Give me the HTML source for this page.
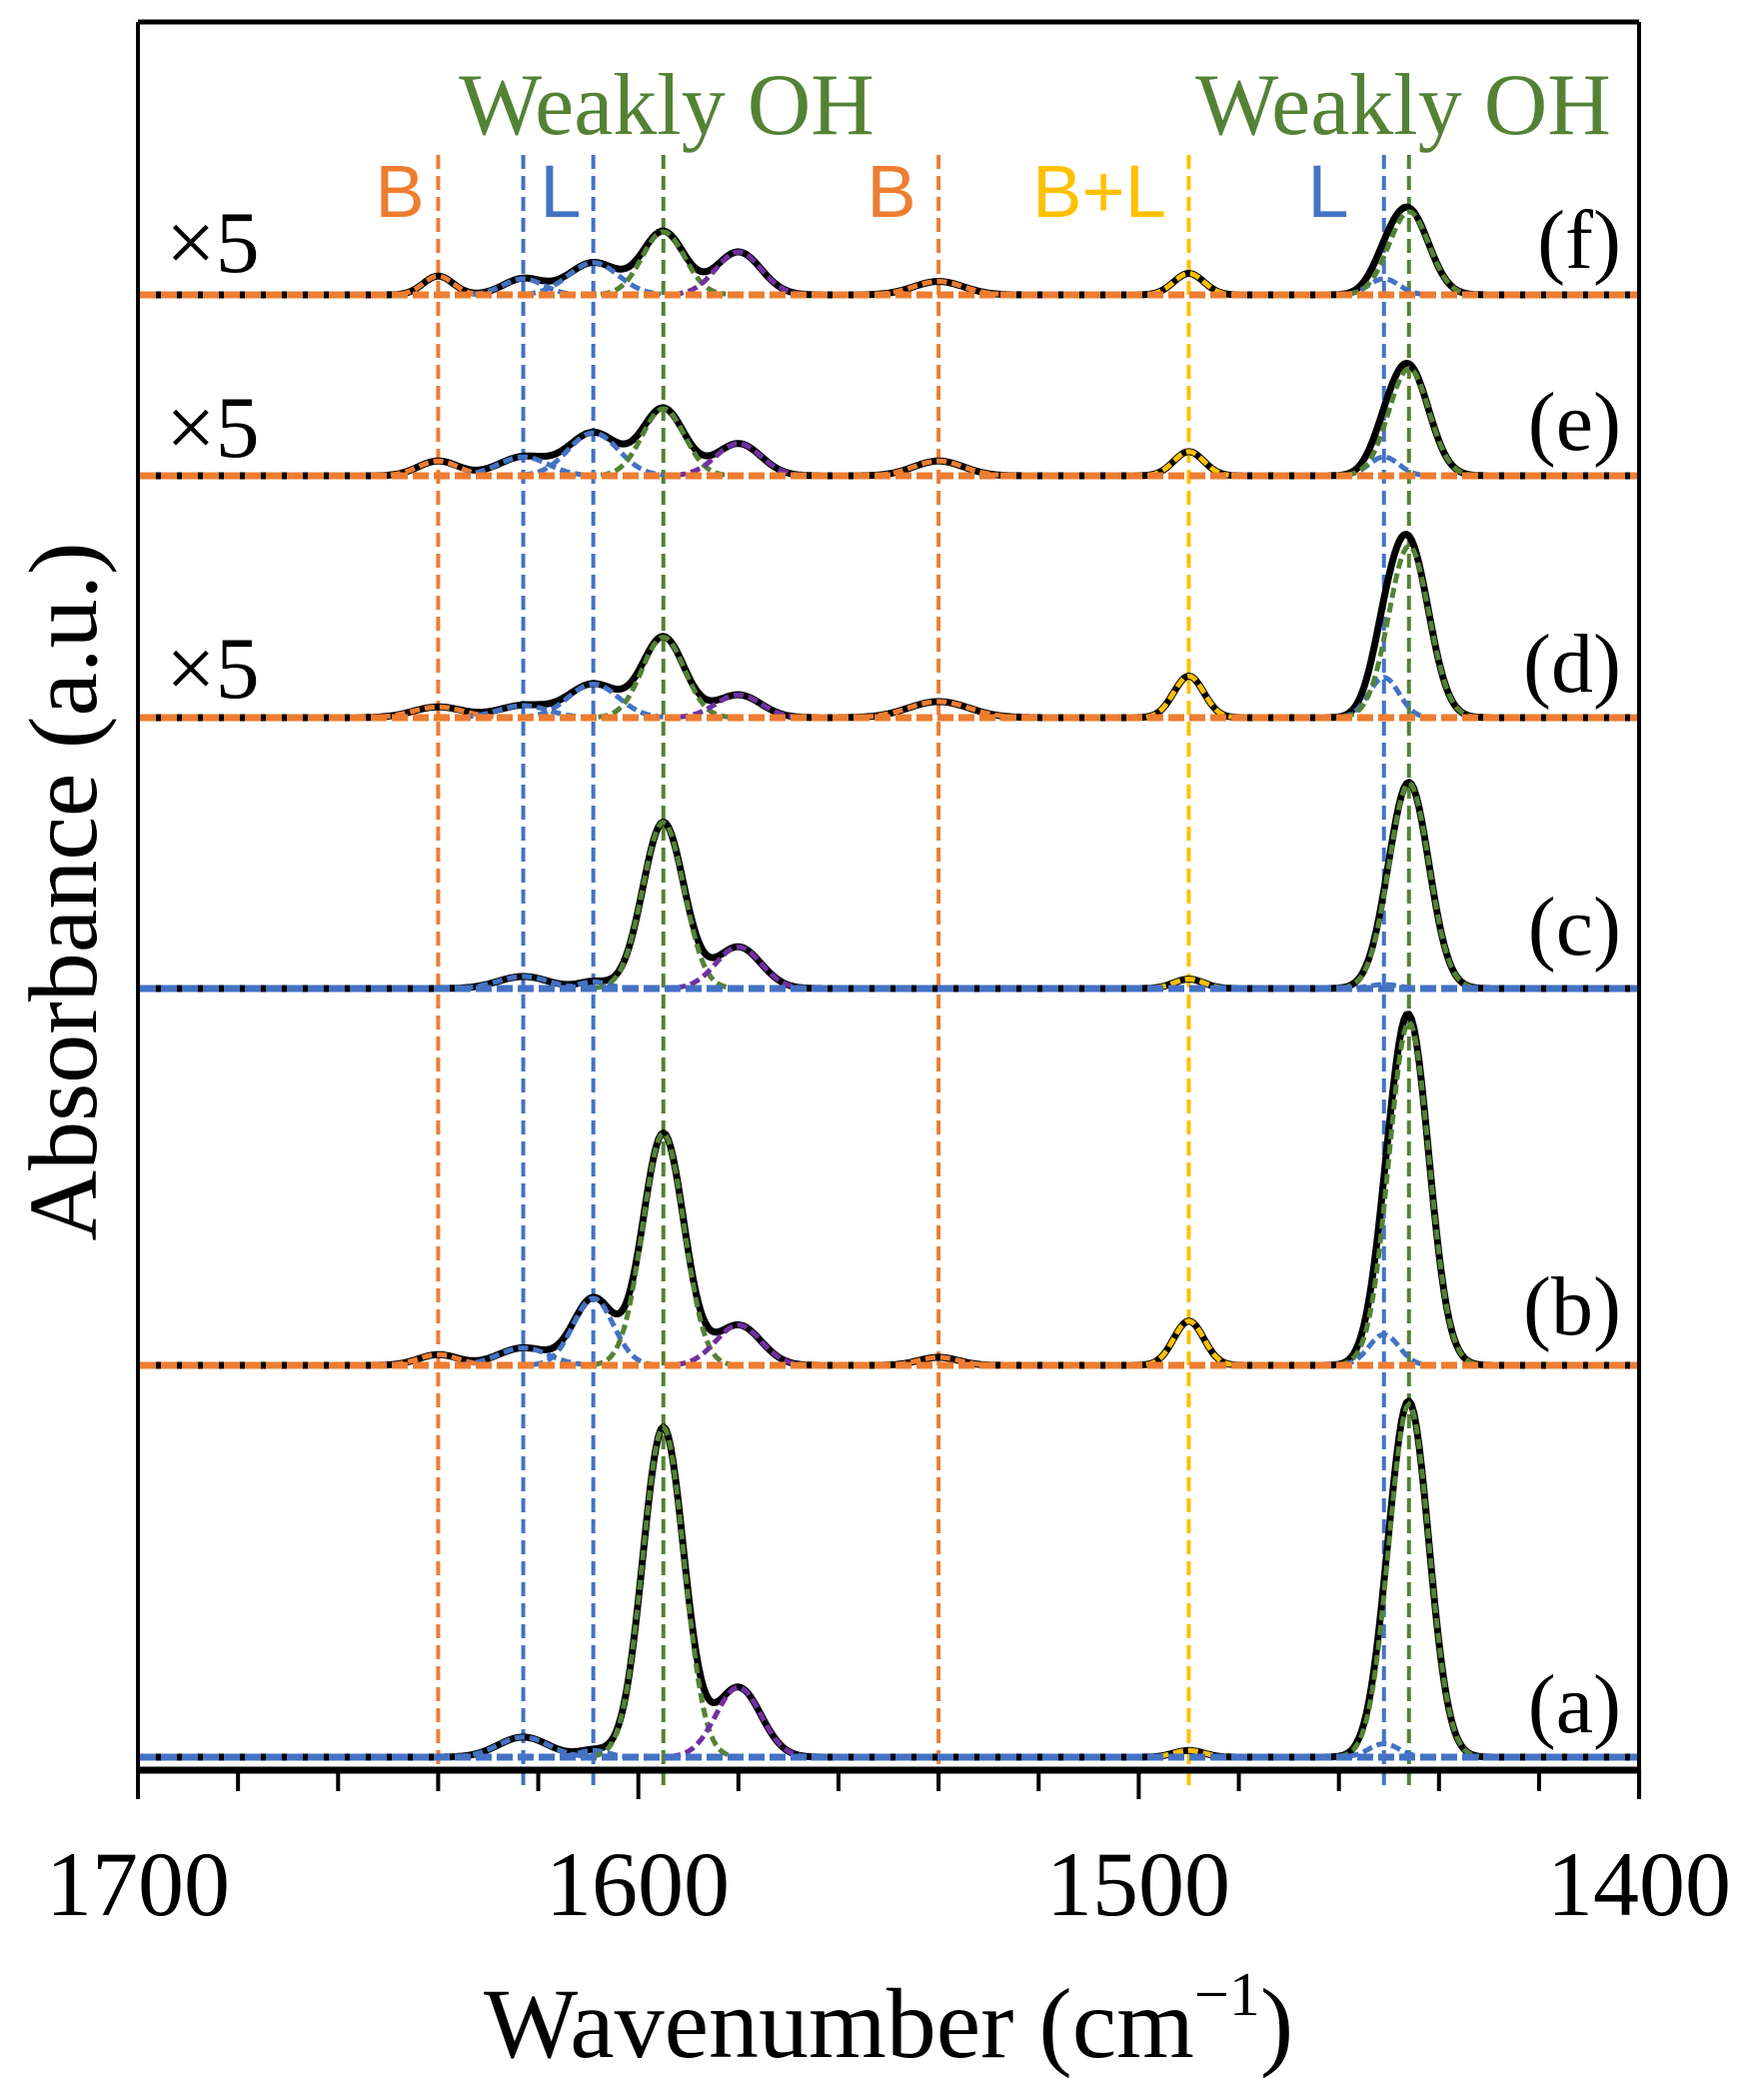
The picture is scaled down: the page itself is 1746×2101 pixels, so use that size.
<!DOCTYPE html>
<html><head><meta charset="utf-8">
<style>
html,body{margin:0;padding:0;background:#fff;}
svg{display:block;}
</style></head>
<body>
<svg id="s" width="1746" height="2101" viewBox="0 0 1746 2101" xmlns="http://www.w3.org/2000/svg">
<rect width="1746" height="2101" fill="#fff"/>
<g id="plot"></g>
<line x1="138" y1="22" x2="1640" y2="22" stroke="#000" stroke-width="5"/>
<line x1="138" y1="22" x2="138" y2="1800" stroke="#000" stroke-width="4"/>
<line x1="1640" y1="22" x2="1640" y2="1800" stroke="#000" stroke-width="4"/>
<line x1="136" y1="1771" x2="1642" y2="1771" stroke="#000" stroke-width="7"/>
<g id="ticks" stroke="#000" stroke-width="4"></g>
<g font-family="Liberation Serif, serif" font-size="92" text-anchor="middle" fill="#000">
<text x="138" y="1916">1700</text>
<text x="638" y="1916">1600</text>
<text x="1139" y="1916">1500</text>
<text x="1640" y="1916">1400</text>
</g>
<text font-family="Liberation Serif, serif" x="889" y="2058" font-size="100" text-anchor="middle">Wavenumber (cm<tspan font-size="62" dy="-42">−1</tspan><tspan dy="42">)</tspan></text>
<text font-family="Liberation Serif, serif" transform="translate(96,892) rotate(-90)" font-size="98" text-anchor="middle">Absorbance (a.u.)</text>
<g font-family="Liberation Serif, serif" font-size="88" fill="#548235" text-anchor="middle">
<text x="667" y="134">Weakly OH</text>
<text x="1404" y="134">Weakly OH</text>
</g>
<g font-family="Liberation Sans, sans-serif" font-size="74" text-anchor="middle">
<text x="400" y="217" fill="#ED7D31">B</text>
<text x="561" y="217" fill="#4472C4">L</text>
<text x="892" y="217" fill="#ED7D31">B</text>
<text x="1100" y="217" fill="#FFC000">B+L</text>
<text x="1329" y="217" fill="#4472C4">L</text>
</g>
<g font-family="Liberation Serif, serif" font-size="88" fill="#000">
<text x="166" y="272">×5</text>
<text x="166" y="457">×5</text>
<text x="166" y="698">×5</text>
</g>
<g font-family="Liberation Serif, serif" font-size="84" fill="#000" text-anchor="end">
<text x="1622" y="268">(f)</text>
<text x="1622" y="450">(e)</text>
<text x="1622" y="692">(d)</text>
<text x="1622" y="955">(c)</text>
<text x="1622" y="1335">(b)</text>
<text x="1622" y="1733">(a)</text>
</g>
</svg>
<script>
(function(){
var NS="http://www.w3.org/2000/svg";
function X(w){return 138+(1700-w)*5.007;}
var plot=document.getElementById('plot');
function el(t,a,p){var e=document.createElementNS(NS,t);for(var k in a)e.setAttribute(k,a[k]);(p||plot).appendChild(e);return e;}
var O="#ED7D31",B="#4472C4",G="#548235",Y="#FFC000",P="#7030A0";
[[1640,O],[1623,B],[1609,B],[1595,G],[1540,O],[1490,Y],[1451,B],[1446,G]].forEach(function(v){
 el('line',{x1:X(v[0]),x2:X(v[0]),y1:155,y2:1790,stroke:v[1],'stroke-width':4,'stroke-dasharray':'14 7'});
});
var tk=document.getElementById('ticks');
for(var w=1700;w>=1400;w-=20){var maj=(w%100===0);el('line',{x1:X(w),x2:X(w),y1:1771,y2:maj?1800:1792},tk);}
var s=1.342;
var spec=[
 [295,O,[[1640,14,3,O],[1623,12,4,B],[1609,24,5,B],[1595,47,4.2,G],[1580,32,4.5,P],[1540,10,5,O],[1490,16,3,Y],[1451,12,3,B],[1446,62,4,G]]],
 [476,O,[[1640,11,4,O],[1623,14,5,B],[1609,32,5,B],[1595,50,4.2,G],[1580,24,4.5,P],[1540,11,5,O],[1490,18,3,Y],[1451,14,3,B],[1446,80,4,G]]],
 [718,O,[[1640,8,5,O],[1623,9,5,B],[1609,25,5,B],[1595,60,4.2,G],[1580,17,4.5,P],[1540,12,6,O],[1490,31,3,Y],[1451,30,3,B],[1446,128,4,G]]],
 [989,B,[[1623,9,5,B],[1609,5,3,B],[1595,124,4.1,G],[1580,31,4.5,P],[1490,7,3,Y],[1451,3,3,B],[1446,153,4,G]]],
 [1366,O,[[1640,8,4,O],[1623,13,5,B],[1609,50,4,B],[1595,173,4.1,G],[1580,30,4.5,P],[1540,6,4,O],[1490,33,3,Y],[1451,23,3,B],[1446,256,4,G]]],
 [1758,B,[[1623,15,5,B],[1609,5,3,B],[1595,246,4.1,G],[1580,52,4.5,P],[1490,5,3,Y],[1451,10,3,B],[1446,263,4,G]]]
];
spec.forEach(function(sp){
 var y0=sp[0],comps=sp[2];
 var tot=[],cps=comps.map(function(){return [];});
 for(var w=1700;w>=1400;w-=0.5){
  var sum=0;
  comps.forEach(function(c,i){var v=c[1]*s*Math.exp(-Math.pow((w-c[0])/c[2],2)/2);sum+=v;cps[i].push(X(w).toFixed(1)+','+(y0-v).toFixed(1));});
  tot.push(X(w).toFixed(1)+','+(y0-sum).toFixed(1));
 }
 el('polyline',{points:tot.join(' '),fill:'none',stroke:'#000','stroke-width':7,'stroke-linejoin':'round'});
 comps.forEach(function(c,i){
  var pts=cps[i].filter(function(p){return parseFloat(p.split(',')[1])<y0-0.6;});
  if(pts.length)el('polyline',{points:pts.join(' '),fill:'none',stroke:c[3],'stroke-width':5,'stroke-dasharray':'10 5'});
 });
 el('line',{x1:140,x2:1640,y1:y0,y2:y0,stroke:sp[1],'stroke-width':7,'stroke-dasharray':'16 5'});
});
})();
</script>
</body></html>
